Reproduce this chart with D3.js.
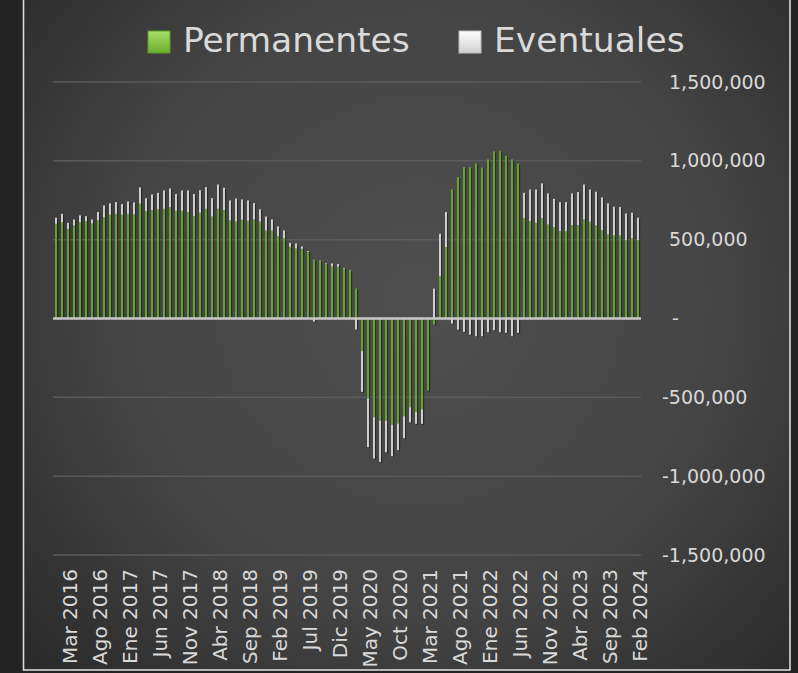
<!DOCTYPE html>
<html>
<head>
<meta charset="utf-8">
<script src="https://cdn.jsdelivr.net/npm/d3@7"></script>
<style>
  html, body { margin: 0; padding: 0; background: #232323; }
  svg { display: block; }
  text { font-family: "DejaVu Sans", sans-serif; fill: #d9d9d9; }
</style>
</head>
<body>
<div id="chart"></div>
<script>
// Monthly series, Ene 2016 .. Feb 2024
const monthNames = ['Ene', 'Feb', 'Mar', 'Abr', 'May', 'Jun', 'Jul', 'Ago', 'Sep', 'Oct', 'Nov', 'Dic'];
const months = d3.range(98).map(i => `${monthNames[i % 12]} ${2016 + Math.floor(i / 12)}`);

const permanentes = [
  601000, 611000, 569000, 590000, 611000, 618000, 603000, 622000, 643000, 658000, 664000, 658000,
  664000, 660000, 728000, 681000, 687000, 692000, 696000, 706000, 683000, 683000, 675000, 649000,
  671000, 696000, 647000, 696000, 687000, 622000, 615000, 626000, 620000, 628000, 615000, 558000,
  558000, 522000, 508000, 455000, 444000, 442000, 423000, 374000, 364000, 347000, 330000, 328000,
  317000, 305000, 190000, -207000, -508000, -626000, -647000, -647000, -673000, -666000, -620000, -563000,
  -594000, -577000, -457000, -38000, 269000, 453000, 818000, 897000, 960000, 960000, 983000, 958000,
  1009000, 1060000, 1064000, 1030000, 1009000, 983000, 637000, 618000, 607000, 637000, 596000, 580000,
  554000, 554000, 592000, 592000, 628000, 613000, 590000, 560000, 533000, 527000, 527000, 497000,
  508000, 497000
];

const eventuales = [
  38000, 53000, 38000, 38000, 43000, 31000, 25000, 53000, 74000, 72000, 74000, 67000,
  78000, 76000, 103000, 82000, 100000, 105000, 116000, 119000, 106000, 129000, 137000, 140000,
  143000, 137000, 116000, 154000, 142000, 127000, 146000, 129000, 129000, 104000, 77000, 89000,
  70000, 62000, 50000, 25000, 32000, 15000, 5000, -20000, 3000, 4000, 19000, 17000,
  4000, 3000, -70000, -258000, -308000, -262000, -262000, -201000, -200000, -169000, -139000, -95000,
  -74000, -91000, 3000, 190000, 268000, 222000, -32000, -70000, -85000, -102000, -112000, -112000,
  -87000, -74000, -87000, -91000, -112000, -91000, 160000, 200000, 211000, 220000, 197000, 179000,
  184000, 184000, 201000, 210000, 222000, 205000, 214000, 208000, 197000, 182000, 180000, 169000,
  163000, 142000
];

const seriesNames = ['Permanentes', 'Eventuales'];
const seriesColors = ['#66a82b', '#d3d3d3'];
const yTicks = [-1500000, -1000000, -500000, 0, 500000, 1000000, 1500000];
// every fifth month is labelled, starting with Mar 2016
const labelMonths = months.filter((m, i) => i % 5 === 2);

const W = 798, H = 673;

const svg = d3.select('#chart').append('svg')
  .attr('width', W)
  .attr('height', H);

const defs = svg.append('defs');
const bg = defs.append('radialGradient')
  .attr('id', 'bg')
  .attr('gradientUnits', 'userSpaceOnUse')
  .attr('cx', 420).attr('cy', 300).attr('r', 560);
bg.append('stop').attr('offset', 0).attr('stop-color', '#4f4f4f');
bg.append('stop').attr('offset', 0.55).attr('stop-color', '#444444');
bg.append('stop').attr('offset', 1).attr('stop-color', '#272727');

const greenGrad = defs.append('linearGradient').attr('id', 'legGreen')
  .attr('x1', 0).attr('y1', 0).attr('x2', 0).attr('y2', 1);
greenGrad.append('stop').attr('offset', 0).attr('stop-color', '#a6de69');
greenGrad.append('stop').attr('offset', 1).attr('stop-color', '#6cae2e');

const whiteGrad = defs.append('linearGradient').attr('id', 'legWhite')
  .attr('x1', 0).attr('y1', 0).attr('x2', 0).attr('y2', 1);
whiteGrad.append('stop').attr('offset', 0).attr('stop-color', '#ffffff');
whiteGrad.append('stop').attr('offset', 1).attr('stop-color', '#cfcfcf');

const shadow = defs.append('filter').attr('id', 'shadow')
  .attr('x', '-50%').attr('y', '-5%').attr('width', '300%').attr('height', '110%');
shadow.append('feDropShadow')
  .attr('dx', 1.2).attr('dy', 1).attr('stdDeviation', 0.6)
  .attr('flood-color', '#000').attr('flood-opacity', 0.45);

// chart frame
svg.append('rect')
  .attr('x', 23.5).attr('y', -10)
  .attr('width', 766.5).attr('height', 680)
  .attr('fill', 'url(#bg)')
  .attr('stroke', '#d9d9d9')
  .attr('stroke-width', 1.6);

const x = d3.scaleBand()
  .domain(months)
  .range([53, 641])
  .paddingInner(0.68)
  .paddingOuter(0.34);

const y = d3.scaleLinear()
  .domain([-1500000, 1500000])
  .range([555, 82]);

// gridlines
svg.append('g')
  .selectAll('line')
  .data(yTicks.filter(v => v !== 0))
  .join('line')
  .attr('x1', 53).attr('x2', 641)
  .attr('y1', d => y(d)).attr('y2', d => y(d))
  .attr('stroke', '#5b5b5b')
  .attr('stroke-width', 1.5);

// stacked bars, positives and negatives stacked apart
const rows = months.map((m, i) => ({ month: m, Permanentes: permanentes[i], Eventuales: eventuales[i] }));
const stacked = d3.stack().keys(seriesNames).offset(d3.stackOffsetDiverging)(rows);

const bars = svg.append('g').attr('filter', 'url(#shadow)');
bars.selectAll('g')
  .data(stacked)
  .join('g')
  .attr('fill', (d, i) => seriesColors[i])
  .selectAll('rect')
  .data(d => d)
  .join('rect')
  .attr('x', d => x(d.data.month))
  .attr('width', x.bandwidth())
  .attr('y', d => y(Math.max(d[0], d[1])))
  .attr('height', d => Math.abs(y(d[0]) - y(d[1])));

// zero line
svg.append('line')
  .attr('x1', 53).attr('x2', 641)
  .attr('y1', y(0)).attr('y2', y(0))
  .attr('stroke', '#c9c9c9')
  .attr('stroke-width', 2.5);

// right value axis
const fmt = d3.format(',');
const yAxis = svg.append('g')
  .attr('transform', 'translate(662,0)')
  .call(d3.axisRight(y)
    .tickValues(yTicks)
    .tickSize(0)
    .tickFormat(v => v === 0 ? '-' : (v < 0 ? '-' : '') + fmt(Math.abs(v))));
yAxis.select('.domain').remove();
yAxis.selectAll('text')
  .attr('x', d => d > 0 ? 7 : d === 0 ? 10 : 0)
  .attr('text-anchor', 'start')
  .attr('fill', '#d9d9d9')
  .style('font-size', '19px')
  .style('font-family', '"DejaVu Sans", sans-serif');

// category axis
const xAxis = svg.append('g')
  .attr('transform', 'translate(0,569)')
  .call(d3.axisBottom(x).tickValues(labelMonths).tickSize(0));
xAxis.select('.domain').remove();
xAxis.selectAll('text')
  .attr('transform', 'rotate(-90)')
  .attr('x', 0).attr('y', 0)
  .attr('dy', '0.47em')
  .attr('text-anchor', 'end')
  .attr('fill', '#d9d9d9')
  .style('font-size', '20px')
  .style('font-family', '"DejaVu Sans", sans-serif');

// legend
const legendX = [148, 459];
const legend = svg.append('g')
  .selectAll('g')
  .data(seriesNames)
  .join('g')
  .attr('transform', (d, i) => `translate(${legendX[i]},0)`);
legend.append('rect')
  .attr('x', 0).attr('y', 31)
  .attr('width', 22).attr('height', 22)
  .attr('fill', (d, i) => i === 0 ? 'url(#legGreen)' : 'url(#legWhite)')
  .attr('stroke', (d, i) => i === 0 ? '#5d9a25' : '#bdbdbd')
  .attr('stroke-width', 1);
legend.append('text')
  .attr('x', 35).attr('y', 52)
  .style('font-size', '34.5px')
  .text(d => d);
</script>
</body>
</html>
